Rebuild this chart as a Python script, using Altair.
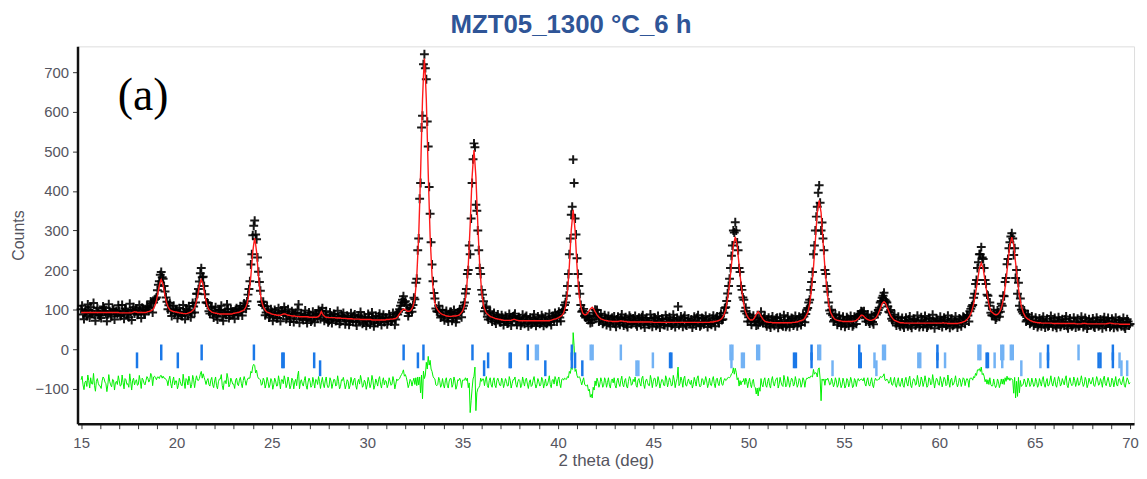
import altair as alt
import pandas as pd

TITLE = "MZT05_1300 °C_6 h"
PANEL_LABEL = "(a)"

# 2theta grid: 15.0 .. 70.0 step 0.1 (one row per degree below),
# plus half-step points 15.05 .. 69.95
TT_START = 15.0
TT_STEP = 0.1

# observed counts (black crosses) on the main grid
obs = [
    101, 88, 95, 84, 99, 106, 90, 87, 97, 92,      # 15
    85, 98, 104, 91, 88, 96, 83, 100, 94, 89,      # 16
    97, 86, 93, 103, 88, 81, 95, 99, 90, 102,      # 17
    89, 98, 105, 92, 99, 107, 104, 116, 118, 127,  # 18
    149, 172, 195, 178, 146, 120, 111, 96, 101, 90,  # 19
    99, 87, 95, 84, 93, 101, 86, 97, 92, 108,      # 20
    118, 140, 171, 205, 183, 139, 118, 96, 103, 88,  # 21
    97, 84, 93, 99, 82, 92, 87, 101, 85, 94,       # 22
    88, 99, 90, 101, 95, 104, 109, 121, 152, 214,  # 23
    288, 325, 278, 196, 148, 112, 109, 93, 97, 86,  # 24
    94, 83, 92, 79, 90, 95, 87, 96, 84, 89,        # 25
    78, 91, 86, 76, 113, 85, 79, 88, 75, 84,       # 26
    86, 74, 83, 90, 78, 89, 97, 83, 87, 76,        # 27
    72, 85, 78, 88, 74, 82, 70, 84, 79, 73,        # 28
    81, 70, 79, 84, 69, 78, 73, 82, 68, 77,        # 29
    70, 79, 72, 81, 67, 76, 83, 71, 78, 69,        # 30
    79, 71, 80, 73, 82, 75, 88, 101, 118, 134,     # 31
    121, 99, 92, 104, 112, 126, 178, 280, 420, 590,  # 32
    745, 682, 512, 342, 214, 142, 103, 95, 99, 84,  # 33
    82, 91, 78, 88, 94, 80, 89, 77, 92, 95,        # 34
    103, 118, 152, 200, 240, 420, 520, 365, 300, 205,  # 35
    150, 121, 104, 82, 91, 77, 86, 72, 83, 79,     # 36
    68, 80, 71, 77, 66, 79, 72, 84, 70, 76,        # 37
    78, 66, 75, 81, 69, 74, 63, 79, 71, 68,        # 38
    75, 67, 80, 70, 64, 77, 69, 81, 73, 85,        # 39
    87, 80, 93, 99, 118, 160, 240, 340, 479, 330,  # 40
    230, 160, 112, 97, 84, 81, 74, 66, 68, 82,     # 41
    84, 88, 76, 80, 68, 79, 73, 66, 77, 70,        # 42
    64, 75, 69, 79, 67, 76, 62, 73, 80, 66,        # 43
    72, 63, 76, 68, 81, 65, 74, 70, 62, 77,        # 44
    71, 79, 64, 73, 67, 75, 61, 78, 69, 74,        # 45
    63, 76, 70, 108, 66, 74, 79, 62, 71, 68,       # 46
    75, 64, 72, 80, 67, 61, 77, 70, 73, 66,        # 47
    64, 77, 68, 79, 71, 82, 74, 92, 106, 141,      # 48
    178, 236, 300, 321, 270, 205, 160, 131, 96, 90,  # 49
    81, 70, 78, 70, 60, 62, 68, 76, 79, 64,        # 50
    73, 62, 75, 66, 71, 80, 63, 69, 58, 74,        # 51
    61, 72, 68, 77, 64, 73, 66, 79, 70, 83,        # 52
    89, 104, 125, 170, 240, 300, 360, 414, 300, 280,  # 53
    200, 160, 118, 90, 86, 74, 79, 68, 75, 66,     # 54
    73, 64, 77, 69, 75, 62, 78, 81, 85, 96,        # 55
    90, 78, 82, 70, 76, 69, 80, 88, 99, 118,       # 56
    130, 143, 121, 108, 93, 77, 80, 66, 73, 62,    # 57
    70, 61, 72, 65, 75, 60, 69, 74, 63, 71,        # 58
    62, 73, 67, 70, 59, 76, 64, 71, 68, 74,        # 59
    60, 72, 69, 75, 62, 68, 73, 59, 70, 66,        # 60
    64, 75, 69, 80, 78, 85, 96, 108, 130, 165,     # 61
    205, 240, 258, 228, 175, 138, 110, 92, 85, 84,  # 62
    80, 93, 95, 110, 134, 180, 228, 270, 293, 238,  # 63
    180, 140, 110, 100, 90, 86, 74, 80, 68, 72,    # 64
    64, 72, 61, 70, 74, 63, 69, 58, 71, 66,        # 65
    70, 60, 68, 73, 62, 67, 75, 59, 69, 64,        # 66
    61, 71, 66, 58, 70, 68, 63, 72, 60, 67,        # 67
    69, 58, 66, 72, 61, 67, 74, 62, 70, 68,        # 68
    60, 71, 66, 59, 73, 62, 68, 57, 65, 70,        # 69
    64,                                            # 70
]

# observed counts at the half steps 15.05 .. 69.95
obs_mid = [
    110, 76, 98, 113, 80, 91, 117, 72, 104, 86,    # 15
    79, 108, 95, 71, 114, 88, 102, 75, 97, 111,    # 16
    84, 112, 77, 100, 90, 115, 74, 106, 98, 87,    # 17
    112, 79, 101, 88, 110, 97, 121, 93, 125, 131,  # 18
    163, 188, 182, 160, 131, 101, 117, 84, 110, 99,  # 19
    78, 104, 85, 112, 76, 98, 109, 81, 117, 93,    # 20
    140, 152, 192, 182, 160, 118, 116, 90, 108, 80,  # 21
    106, 75, 99, 110, 72, 95, 113, 79, 101, 87,    # 22
    77, 104, 86, 109, 85, 116, 102, 138, 172, 240,  # 23
    312, 290, 232, 170, 120, 120, 86, 108, 80, 101,  # 24
    72, 99, 78, 104, 71, 96, 107, 76, 101, 70,     # 25
    96, 69, 92, 100, 67, 90, 74, 98, 66, 93,       # 26
    70, 95, 68, 88, 99, 76, 104, 72, 96, 68,       # 27
    93, 66, 89, 71, 97, 64, 86, 92, 63, 85,        # 28
    62, 91, 70, 88, 60, 85, 94, 64, 82, 59,        # 29
    89, 63, 93, 58, 84, 66, 90, 61, 87, 80,        # 30
    63, 88, 70, 92, 62, 90, 95, 110, 125, 118,     # 31
    112, 84, 106, 95, 130, 168, 250, 380, 560, 720,  # 32
    710, 575, 410, 270, 172, 128, 96, 110, 80, 99,  # 33
    73, 97, 70, 94, 72, 99, 68, 93, 100, 81,       # 34
    110, 141, 190, 262, 330, 480, 510, 350, 250, 190,  # 35
    138, 96, 108, 75, 96, 70, 92, 65, 88, 69,      # 36
    86, 61, 84, 65, 89, 60, 83, 90, 62, 81,        # 37
    60, 87, 64, 84, 58, 80, 66, 88, 59, 83,        # 38
    64, 86, 59, 82, 67, 90, 61, 84, 92, 70,        # 39
    95, 71, 99, 112, 135, 190, 280, 360, 420, 290,  # 40
    190, 140, 95, 102, 80, 86, 82, 75, 92, 100,    # 41
    99, 70, 90, 64, 86, 61, 84, 58, 80, 83,        # 42
    57, 82, 62, 88, 60, 81, 56, 85, 63, 78,        # 43
    84, 58, 80, 61, 86, 55, 79, 63, 88, 57,        # 44
    80, 59, 84, 55, 77, 62, 86, 58, 81, 60,        # 45
    87, 56, 79, 61, 83, 57, 85, 60, 78, 64,        # 46
    55, 82, 60, 86, 58, 79, 63, 84, 56, 80,        # 47
    62, 85, 58, 83, 66, 90, 76, 104, 122, 160,     # 48
    205, 262, 295, 300, 250, 195, 150, 125, 105, 70,  # 49
    88, 62, 85, 71, 78, 80, 95, 66, 84, 58,        # 50
    80, 55, 83, 59, 78, 54, 81, 61, 86, 57,        # 51
    83, 56, 79, 60, 84, 58, 82, 61, 87, 68,        # 52
    100, 118, 150, 195, 262, 335, 395, 370, 320, 250,  # 53
    190, 145, 98, 100, 70, 88, 62, 85, 59, 82,     # 54
    57, 81, 60, 84, 58, 82, 64, 88, 90, 95,        # 55
    96, 70, 88, 65, 86, 63, 90, 92, 105, 122,      # 56
    135, 125, 118, 95, 99, 72, 87, 60, 82, 58,     # 57
    79, 55, 80, 58, 83, 54, 77, 60, 85, 56,        # 58
    81, 57, 84, 55, 79, 61, 87, 53, 78, 62,        # 59
    82, 56, 80, 59, 85, 54, 77, 62, 83, 55,        # 60
    78, 58, 82, 64, 86, 70, 102, 112, 140, 175,    # 61
    220, 240, 232, 205, 165, 135, 118, 86, 100, 75,  # 62
    98, 82, 115, 135, 170, 215, 255, 285, 280, 255,  # 63
    200, 168, 128, 95, 98, 70, 88, 64, 83, 60,     # 64
    80, 56, 78, 58, 82, 55, 77, 60, 84, 57,        # 65
    79, 54, 81, 57, 76, 60, 83, 53, 78, 58,        # 66
    80, 55, 77, 59, 82, 56, 79, 52, 76, 61,        # 67
    78, 55, 80, 58, 75, 53, 81, 57, 79, 56,        # 68
    77, 54, 80, 56, 74, 58, 79, 52, 76, 60,        # 69
]

# calculated profile (red line) on the main grid
calc = [
    93, 93, 93, 93, 93, 93, 93, 93, 93, 93,        # 15
    93, 93, 93, 93, 93, 93, 93, 93, 93, 93,        # 16
    92, 92, 92, 92, 92, 92, 92, 93, 95, 94,        # 17
    93, 93, 93, 93, 93, 95, 96, 98, 103, 114,      # 18
    134, 161, 176, 161, 134, 114, 103, 98, 96, 95,  # 19
    94, 93, 92, 91, 90, 90, 91, 93, 96, 100,       # 20
    112, 133, 160, 176, 160, 133, 112, 100, 96, 93,  # 21
    92, 91, 90, 89, 89, 89, 89, 89, 89, 89,        # 22
    91, 92, 93, 94, 96, 98, 103, 115, 140, 185,    # 23
    246, 281, 246, 185, 140, 115, 103, 96, 93, 91,  # 24
    89, 88, 87, 86, 86, 87, 89, 89, 87, 86,        # 25
    85, 84, 84, 83, 83, 82, 82, 82, 82, 82,        # 26
    81, 81, 81, 81, 82, 85, 95, 86, 82, 81,        # 27
    80, 80, 80, 80, 79, 79, 79, 78, 78, 78,        # 28
    77, 77, 77, 76, 76, 76, 76, 75, 75, 75,        # 29
    75, 75, 75, 74, 74, 74, 74, 74, 74, 74,        # 30
    75, 75, 76, 76, 77, 78, 82, 90, 97, 101,       # 31
    100, 96, 96, 99, 108, 130, 185, 285, 445, 630,  # 32
    734, 630, 445, 285, 185, 130, 108, 99, 93, 89,  # 33
    87, 85, 84, 83, 83, 84, 84, 85, 86, 90,        # 34
    96, 111, 146, 212, 315, 435, 503, 435, 315, 212,  # 35
    146, 111, 96, 89, 85, 82, 80, 78, 77, 76,      # 36
    75, 74, 73, 73, 73, 73, 74, 76, 74, 73,        # 37
    72, 72, 72, 72, 72, 72, 72, 72, 72, 72,        # 38
    72, 72, 72, 72, 72, 72, 73, 74, 76, 77,        # 39
    79, 82, 85, 92, 108, 144, 211, 301, 352, 301,  # 40
    211, 144, 108, 92, 87, 88, 94, 102, 106, 100,  # 41
    91, 84, 79, 76, 74, 73, 72, 71, 71, 70,        # 42
    70, 70, 71, 72, 71, 70, 70, 69, 69, 69,        # 43
    69, 69, 69, 69, 69, 69, 69, 69, 69, 69,        # 44
    68, 68, 68, 68, 68, 68, 68, 68, 68, 68,        # 45
    68, 68, 68, 68, 68, 68, 68, 68, 68, 68,        # 46
    68, 68, 68, 68, 68, 68, 68, 68, 68, 68,        # 47
    69, 69, 70, 71, 72, 74, 78, 86, 100, 128,      # 48
    165, 213, 262, 284, 262, 213, 165, 128, 100, 86,  # 49
    78, 74, 74, 79, 88, 95, 89, 80, 73, 70,        # 50
    69, 68, 68, 67, 67, 67, 67, 67, 67, 67,        # 51
    67, 67, 67, 68, 68, 69, 70, 72, 73, 76,        # 52
    83, 93, 113, 153, 206, 274, 345, 376, 345, 274,  # 53
    206, 153, 113, 93, 83, 77, 74, 73, 72, 71,     # 54
    70, 70, 70, 70, 70, 71, 72, 75, 80, 86,        # 55
    85, 80, 76, 74, 73, 74, 76, 81, 90, 102,       # 56
    115, 120, 115, 102, 90, 81, 75, 72, 70, 68,    # 57
    67, 67, 66, 66, 66, 66, 66, 66, 66, 66,        # 58
    66, 66, 66, 66, 66, 66, 66, 66, 66, 66,        # 59
    66, 66, 67, 66, 66, 65, 65, 65, 65, 65,        # 60
    66, 67, 68, 70, 73, 78, 85, 96, 114, 141,      # 61
    172, 204, 218, 204, 172, 141, 114, 96, 92, 88,  # 62
    87, 90, 98, 113, 138, 176, 220, 264, 283, 264,  # 63
    218, 174, 135, 109, 93, 83, 78, 75, 72, 70,    # 64
    69, 68, 67, 67, 66, 66, 66, 66, 66, 66,        # 65
    65, 65, 65, 65, 65, 65, 65, 65, 65, 65,        # 66
    65, 65, 64, 64, 64, 65, 66, 65, 64, 64,        # 67
    64, 64, 64, 64, 64, 64, 64, 64, 65, 66,        # 68
    66, 65, 64, 64, 64, 63, 63, 63, 63, 63,        # 69
    63,                                            # 70
]

# calculated profile at the half steps 15.05 .. 69.95
calc_mid = [
    93, 93, 93, 93, 93, 93, 93, 93, 93, 93,        # 15
    93, 93, 93, 93, 93, 93, 93, 93, 93, 93,        # 16
    92, 92, 92, 92, 92, 92, 92, 94, 94, 93,        # 17
    93, 93, 93, 93, 94, 95, 97, 100, 108, 123,     # 18
    148, 170, 170, 148, 123, 108, 100, 97, 95, 94,  # 19
    93, 92, 91, 90, 90, 90, 92, 94, 98, 105,       # 20
    122, 146, 170, 170, 146, 122, 105, 98, 94, 92,  # 21
    91, 90, 89, 89, 89, 89, 89, 89, 89, 90,        # 22
    91, 92, 93, 95, 97, 100, 108, 126, 160, 215,   # 23
    265, 265, 215, 160, 126, 108, 99, 94, 92, 90,  # 24
    88, 87, 86, 86, 86, 88, 89, 88, 86, 85,        # 25
    84, 84, 83, 83, 82, 82, 82, 82, 82, 81,        # 26
    81, 81, 81, 81, 83, 90, 90, 84, 81, 80,        # 27
    80, 80, 80, 79, 79, 79, 78, 78, 78, 77,        # 28
    77, 77, 76, 76, 76, 76, 75, 75, 75, 75,        # 29
    75, 75, 74, 74, 74, 74, 74, 74, 74, 74,        # 30
    75, 75, 76, 76, 77, 80, 86, 93, 99, 101,       # 31
    98, 96, 97, 103, 118, 155, 235, 365, 540, 690,  # 32
    690, 540, 365, 235, 155, 118, 103, 96, 91, 88,  # 33
    86, 84, 83, 83, 83, 84, 84, 85, 88, 93,        # 34
    103, 128, 178, 262, 375, 470, 470, 375, 262, 178,  # 35
    128, 103, 92, 87, 83, 81, 79, 77, 76, 75,      # 36
    74, 73, 73, 73, 73, 73, 75, 75, 73, 72,        # 37
    72, 72, 72, 72, 72, 72, 72, 72, 72, 72,        # 38
    72, 72, 72, 72, 72, 72, 73, 75, 76, 78,        # 39
    80, 83, 88, 100, 126, 177, 256, 326, 326, 256,  # 40
    177, 126, 100, 89, 87, 91, 98, 104, 103, 95,   # 41
    87, 81, 77, 75, 73, 72, 71, 71, 70, 70,        # 42
    70, 70, 71, 71, 70, 70, 69, 69, 69, 69,        # 43
    69, 69, 69, 69, 69, 69, 69, 69, 69, 69,        # 44
    68, 68, 68, 68, 68, 68, 68, 68, 68, 68,        # 45
    68, 68, 68, 68, 68, 68, 68, 68, 68, 68,        # 46
    68, 68, 68, 68, 68, 68, 68, 68, 68, 68,        # 47
    69, 69, 70, 71, 73, 76, 82, 93, 114, 146,      # 48
    189, 237, 273, 273, 237, 189, 146, 114, 93, 82,  # 49
    76, 74, 76, 83, 91, 92, 84, 76, 71, 69,        # 50
    68, 68, 67, 67, 67, 67, 67, 67, 67, 67,        # 51
    67, 67, 67, 68, 68, 69, 71, 72, 74, 79,        # 52
    88, 103, 133, 180, 240, 310, 360, 360, 310, 240,  # 53
    180, 133, 103, 88, 80, 75, 73, 72, 71, 70,     # 54
    70, 70, 70, 70, 70, 71, 73, 77, 83, 86,        # 55
    83, 78, 75, 73, 73, 75, 78, 85, 96, 108,       # 56
    118, 118, 108, 96, 85, 78, 73, 71, 69, 67,     # 57
    67, 66, 66, 66, 66, 66, 66, 66, 66, 66,        # 58
    66, 66, 66, 66, 66, 66, 66, 66, 66, 66,        # 59
    66, 66, 66, 66, 65, 65, 65, 65, 65, 65,        # 60
    66, 67, 69, 71, 75, 81, 90, 105, 127, 156,     # 61
    188, 211, 211, 188, 156, 127, 105, 94, 90, 87,  # 62
    88, 94, 105, 125, 157, 198, 242, 273, 273, 241,  # 63
    196, 154, 122, 101, 88, 80, 76, 73, 71, 69,    # 64
    68, 67, 67, 66, 66, 66, 66, 66, 66, 65,        # 65
    65, 65, 65, 65, 65, 65, 65, 65, 65, 65,        # 66
    65, 64, 64, 64, 64, 65, 65, 64, 64, 64,        # 67
    64, 64, 64, 64, 64, 64, 64, 64, 65, 66,        # 68
    65, 64, 64, 64, 63, 63, 63, 63, 63, 63,        # 69
]

# offset at which the difference curve (obs - calc) is drawn
DIFF_OFFSET = -85

# Bragg reflection positions (2theta), three phase rows
refl_row1_dark = [19.2, 21.32, 24.06, 31.91, 32.95, 35.52, 38.42, 40.73, 53.3, 55.8, 59.9, 65.7, 69.1]
refl_row1_light = [38.85, 38.95, 41.72, 41.82, 43.3, 49.05, 49.15, 50.45, 50.55, 53.65, 53.75,
                   57.05, 57.15, 62.05, 62.15, 63.25, 63.35, 63.75, 63.85, 67.3]
refl_row2_dark = [17.93, 20.07, 25.55, 25.62, 27.22, 32.66, 36.34, 37.47, 37.53, 40.73, 40.9,
                  45.88, 45.95, 52.38, 52.48, 53.3, 55.8, 55.88, 59.9, 62.48, 62.55, 65.7,
                  68.35, 68.45, 69.1]
refl_row2_light = [44.98, 49.1, 49.65, 49.75, 56.6, 58.9, 59.0, 60.3, 62.9, 63.3, 65.3, 69.45]
refl_row3_dark = [27.53, 36.13, 39.34, 41.28]
refl_row3_light = [44.12, 44.22, 54.4, 56.7, 64.3, 69.55, 69.85]
# vertical extent (counts) of each row's tick marks
ROW_SPAN = {1: (12, -28), 2: (-8, -48), 3: (-28, -68)}

x_ticks = list(range(15, 71))
y_ticks = [-100, 0, 100, 200, 300, 400, 500, 600, 700]

# ---------------------------------------------------------------
tt = [round(TT_START + i * TT_STEP, 1) for i in range(len(obs))]
tt_mid = [round(TT_START + TT_STEP / 2 + i * TT_STEP, 2) for i in range(len(obs_mid))]
df = pd.concat([pd.DataFrame({"tt": tt, "obs": obs, "calc": calc}),
                pd.DataFrame({"tt": tt_mid, "obs": obs_mid, "calc": calc_mid})],
               ignore_index=True).sort_values("tt").reset_index(drop=True)
df["diff"] = df["obs"] - df["calc"] + DIFF_OFFSET

rows = []
for row, dark, light in [(1, refl_row1_dark, refl_row1_light),
                         (2, refl_row2_dark, refl_row2_light),
                         (3, refl_row3_dark, refl_row3_light)]:
    top, bot = ROW_SPAN[row]
    for p in dark:
        rows.append({"tt": p, "top": top, "bot": bot, "shade": "dark"})
    for p in light:
        rows.append({"tt": p, "top": top, "bot": bot, "shade": "light"})
refl = pd.DataFrame(rows)

LABEL_COLOR = "#555560"
xscale = alt.Scale(domain=[14.81, 70.21], nice=False, zero=False)
yscale = alt.Scale(domain=[-188, 765], nice=False, zero=False)
xaxis = alt.Axis(values=x_ticks, labelExpr="datum.value % 5 === 0 ? datum.label : ''",
                 title="2 theta (deg)", grid=False, tickSize=5, tickColor="#333333",
                 labelFont="Liberation Sans", labelFontSize=15, labelColor=LABEL_COLOR,
                 labelPadding=7, labelOverlap=False, labelFlush=False,
                 titleFont="Liberation Sans", titleFontSize=17, titleFontWeight="normal",
                 titleColor=LABEL_COLOR, titlePadding=2,
                 domainColor="#111111", domainWidth=2.5)
yaxis = alt.Axis(values=y_ticks, title="Counts", grid=False, tickSize=5, tickColor="#333333",
                 labelFont="Liberation Sans", labelFontSize=15, labelColor=LABEL_COLOR,
                 labelPadding=4, labelOverlap=False,
                 titleFont="Liberation Sans", titleFontSize=16, titleFontWeight="normal",
                 titleColor=LABEL_COLOR, titlePadding=9,
                 domainColor="#111111", domainWidth=2.5)

X = alt.X("tt:Q", scale=xscale, axis=xaxis, title="2 theta (deg)")

obs_layer = alt.Chart(df).mark_point(
    shape="M-1,0L1,0M0,-1L0,1", filled=False, color="black", strokeWidth=2.0, size=80, opacity=0.9
).encode(x=X, y=alt.Y("obs:Q", scale=yscale, axis=yaxis, title="Counts"))

calc_layer = alt.Chart(df).mark_line(color="#ff1a1a", strokeWidth=1.4).encode(
    x=X, y=alt.Y("calc:Q", scale=yscale, axis=yaxis, title="Counts"))

diff_layer = alt.Chart(df).mark_line(color="#00f000", strokeWidth=1.0).encode(
    x=X, y=alt.Y("diff:Q", scale=yscale, axis=yaxis, title="Counts"))

refl_layer = alt.Chart(refl).mark_rule(strokeWidth=2.5).encode(
    x=X,
    y=alt.Y("top:Q", scale=yscale, axis=yaxis, title="Counts"),
    y2="bot:Q",
    color=alt.Color("shade:N", scale=alt.Scale(domain=["dark", "light"],
                                                range=["#1a78e8", "#72b2f4"]), legend=None),
)

label_layer = alt.Chart(pd.DataFrame({"label": [PANEL_LABEL]})).mark_text(
    font="Liberation Serif", fontSize=46, color="black", align="center", baseline="middle"
).encode(text="label:N", x=alt.value(66), y=alt.value(50))

chart = alt.layer(obs_layer, diff_layer, refl_layer, calc_layer, label_layer).properties(
    width=1064, height=380,
    title=alt.TitleParams(TITLE, font="Liberation Sans", fontSize=26, fontWeight="bold",
                          color="#2f5597", anchor="middle", dx=-35, offset=8),
    padding={"left": 70, "top": 37, "right": 5, "bottom": 46},
    autosize=alt.AutoSizeParams(type="none"),
).configure_view(stroke="#9c9c9c", strokeWidth=2).configure(background="white")

chart.save("out.html", embed_options={"renderer": "svg", "actions": False})
